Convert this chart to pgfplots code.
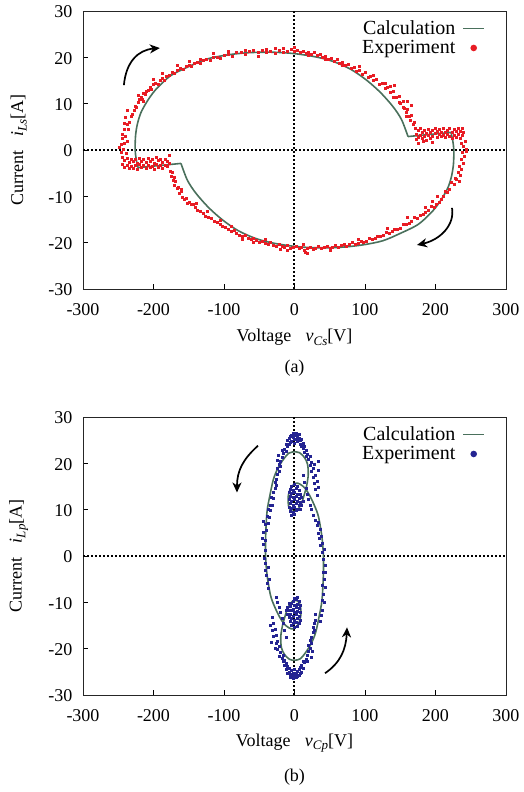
\documentclass[border=0pt]{standalone}
\usepackage{fontspec}
\setmainfont{Liberation Serif}
\usepackage{pgfplots}
\pgfplotsset{compat=1.18}
\usetikzlibrary{arrows.meta}
\definecolor{calc}{RGB}{74,112,92}
\definecolor{expred}{RGB}{232,28,36}
\definecolor{expblue}{RGB}{36,36,146}
\newcommand\sub[2]{\textit{#1}\raisebox{-0.45ex}{\fontsize{13}{13}\selectfont\textit{#2}}}
\newcommand\bigf{\fontsize{18}{20}\selectfont}
\newcommand\lstrut{\rule[-4pt]{0pt}{13pt}}
\tikzset{arr/.style={line width=1.7pt, -{Stealth[length=10pt, width=9pt, inset=3pt]}}}
\pgfplotsset{
 myaxis/.style={
  scale only axis, width=423pt, height=278pt,
  xmin=-300,xmax=300,ymin=-30,ymax=30,
  xtick={-300,-200,...,300}, xticklabels={-300,-200,-100,0,100,200,300},
  ytick={-30,-20,...,30}, yticklabels={-30,-20,-10,0,10,20,30},
  tick align=inside, xtick pos=bottom, ytick pos=left, major tick length=5pt,
  tick style={black, line width=0.6pt},
  axis line style={line width=0.9pt, black!85},
  ticklabel style={font=\bigf, inner sep=0pt},
  xticklabel style={anchor=base, yshift=-26.5pt},
  yticklabel style={anchor=base east, xshift=-10.5pt, yshift=-7pt},
  every axis x label/.style={at={(axis description cs:0.5,-0.173)}, anchor=center, font=\bigf},
  every axis y label/.style={at={(axis description cs:-0.152,0.5)}, anchor=center, rotate=90, font=\bigf},
  legend style={draw=none, fill=none, inner sep=0pt, outer sep=0pt, at={(rel axis cs:0.9504,0.965)}, anchor=north east, font=\fontsize{20}{22}\selectfont, nodes={inner sep=0pt}, row sep=4.5pt, column sep=7pt},
  legend cell align=right,
  legend plot pos=right,
 },
 zeroline/.style={black, line width=2pt, dash pattern=on 2pt off 2pt, forget plot},
 calcline/.style={calc, line width=1.6pt, no markers, legend image code/.code={\draw[calc, line width=1.6pt] (0pt,0pt) -- (21pt,0pt);}},
}
\begin{document}
\begin{tikzpicture}[font=\bigf]
\useasboundingbox (0,0) rectangle (524pt,792pt);
% ---------------- (a) ----------------
\begin{axis}[myaxis, name=top, at={(83pt,503pt)}, anchor=south west,
  xlabel={Voltage\hspace{0.8em}\sub{v}{Cs}[V]},
  ylabel={Current\hspace{0.8em}\sub{i}{Ls}[A]}]
\addplot[zeroline] coordinates {(-300,0) (300,0)};
\addplot[zeroline] coordinates {(0,-30) (0,30)};
\addplot[only marks, mark=square*, mark size=1pt, mark options={draw=expred, fill=expred}, forget plot] coordinates {
(-248,0.5) (-246,-0.5) (-246,1.2) (-244,2.5) (-244,3.5) (-243,0.2) (-242,4.5) (-242,5.8) (-241,1.5) (-240,3) (-240,7) (-239,-0.8) (-238,5.5) (-238,8.5) (-237,2)
(-236,4.5) (-234,6) (-232,7.2) (-230,7.8) (-228,8.6) (-226,9.5) (-224,9.2) (-222,10.4) (-220,10.9) (-218,11.3) (-216,11.0) (-214,12.2) (-212,12.0) (-210,12.6) (-208,12.9) (-205,13.6) (-203,13.2) (-200,14.1) (-197,14.5) (-194,14.2) (-191,15.0) (-188,15.4) (-185,15.1) (-182,16.0) (-178,16.2) (-174,16.8) (-170,16.5) (-166,17.3) (-162,17.6) (-158,17.4) (-154,18.1) (-150,18.3) (-146,18.0) (-142,18.8) (-138,19.0) (-134,18.8) (-130,19.4) (-125,19.6) (-120,19.3) (-115,20.0) (-110,20.1) (-105,19.8) (-100,20.5) (-94,20.6) (-88,20.3) (-82,21.0) (-76,21.1) (-70,20.7) (-64,21.3) (-58,21.5) (-52,21.0) (-46,21.6) (-40,21.8) (-34,21.4) (-28,21.9) (-22,21.6) (-16,22.0) (-10,21.4) (-4,21.8) (0,22.2)
(-222,11.8) (-214,10.6) (-200,15.2) (-188,16.5) (-166,18.3) (-150,19.2) (-134,19.6) (-115,20.8) (-94,21.3) (-70,21.5) (-52,20.3) (-40,21.0) (-16,21.2) (0,21.4) (-28,20.8)
(4,21.6) (8,21.0) (12,21.4) (16,20.8) (20,21.2) (24,20.6) (28,21.0) (32,20.4) (36,20.7) (40,20.0) (44,20.3) (48,19.6) (52,19.9) (56,19.2) (60,19.5) (64,18.7) (68,19.0) (72,18.3) (76,18.6) (80,17.7) (84,17.9) (88,17.1) (92,17.3) (96,16.4) (100,16.7) (104,15.8) (108,16.0) (112,15.0) (116,15.3) (120,14.2) (124,14.5) (128,13.3) (132,13.6) (136,12.4) (140,12.7) (144,11.3) (148,11.6) (150,10.2) (154,10.5) (156,9.1) (158,8.2) (160,8.8) (162,7.2) (164,6.5) (166,7.5) (168,5.5) (170,6.0) (171,4.8)
(128,14.4) (140,11.5) (148,10.4) (154,9.2) (158,7.3) (136,13.8) (112,16.1) (92,18.0) (68,18.3) (44,19.5) (20,20.5) (142,14.0) (166,9.7) (160,10.5)
(172,3.5) (172,2.3) (175,4.2) (175,2.8) (178,3.3) (178,4.6) (181,2.5) (181,3.8) (184,4.3) (184,3.0) (187,2.2) (187,3.6) (190,4.5) (190,3.1) (193,2.6) (193,3.9) (196,4.2) (196,3.0) (199,3.6) (199,4.7) (202,2.8) (202,4.0) (205,3.4) (205,4.4) (208,2.9) (208,3.8) (211,4.6) (211,3.2) (214,3.9) (214,2.7) (217,4.3) (217,3.4) (220,3.0) (220,4.7) (223,3.8) (223,2.5) (226,4.4) (226,3.3) (229,2.8) (229,4.0) (232,4.8) (232,3.5) (235,2.6) (235,4.1) (238,3.2) (238,4.6) (240,3.8)
(176,1.4) (183,1.8) (196,1.6)
(236,1.5) (240,0.8) (243,0.2) (238,-0.5) (241,-1.3) (236,-2.0) (239,-2.8) (234,-3.5) (237,-4.1) (232,-4.8) (235,-5.5) (230,-6.2) (233,-6.8) (242,1.9) (244,-0.3)
(228,-6.0) (226,-7.4) (222,-7.0) (220,-8.4) (217,-9.2) (214,-8.8) (211,-10.0) (208,-10.6) (205,-11.2) (201,-11.6) (198,-12.3) (194,-12.2) (190,-13.1) (186,-13.4) (182,-13.9) (178,-14.1) (174,-14.8) (170,-14.6) (166,-15.4) (162,-15.7) (158,-16.1) (154,-16.0) (150,-16.8) (146,-17.1) (142,-17.0) (138,-17.6) (134,-17.9) (130,-17.8) (126,-18.4) (122,-18.6) (118,-18.5) (114,-19.0) (110,-19.3) (106,-19.1) (102,-19.6) (98,-19.9) (94,-19.6) (90,-20.1) (86,-20.3) (82,-19.9) (78,-20.4) (74,-20.7) (70,-20.3) (66,-20.6) (62,-21.0) (58,-20.6) (54,-20.9) (50,-21.2) (46,-20.7) (42,-21.0) (38,-21.3) (34,-20.8) (30,-21.2) (26,-21.5) (22,-20.9) (18,-21.2) (14,-21.6) (10,-21.0) (6,-21.3) (2,-20.8)
(203,-10.0) (196,-11.0) (185,-12.3) (160,-14.6) (132,-16.9) (90,-19.2) (18,-22.3) (12,-20.3) (15,-22.0) (50,-21.6)
(-244,-1.6) (-244,-3.0) (-241,-2.3) (-241,-3.8) (-238,-1.8) (-238,-3.2) (-235,-2.6) (-235,-4.0) (-232,-1.9) (-232,-3.4) (-229,-2.4) (-229,-3.9) (-226,-2.0) (-226,-3.3) (-223,-2.8) (-223,-4.1) (-220,-1.7) (-220,-3.1) (-217,-2.5) (-217,-3.7) (-214,-2.0) (-214,-3.3) (-211,-2.7) (-211,-4.0) (-208,-1.8) (-208,-3.2) (-205,-2.4) (-205,-3.8) (-202,-2.0) (-202,-3.4) (-199,-2.8) (-199,-4.2) (-196,-1.6) (-196,-3.0) (-193,-2.3) (-193,-3.7) (-190,-2.0) (-190,-3.2) (-187,-2.6) (-187,-3.9) (-184,-1.9) (-184,-3.3) (-181,-2.4) (-181,-3.6) (-178,-2.9) (-178,-1.2)
(-177,-4.6) (-175,-5.6) (-174,-4.9) (-172,-6.5) (-171,-7.5) (-169,-6.8) (-167,-8.3) (-165,-8.0) (-163,-9.3) (-161,-9.0) (-159,-10.1) (-156,-10.6) (-153,-10.4) (-150,-11.3) (-147,-11.8) (-144,-11.6) (-141,-12.4) (-138,-12.9) (-134,-13.3) (-130,-13.6) (-126,-14.2) (-122,-14.5) (-118,-14.8) (-114,-15.4) (-110,-15.6) (-106,-16.0) (-102,-16.5) (-98,-16.7) (-94,-17.1) (-90,-17.5) (-86,-17.4) (-82,-18.0) (-78,-18.3) (-74,-18.5) (-70,-18.4) (-66,-19.0) (-62,-19.2) (-58,-19.0) (-54,-19.5) (-50,-19.8) (-46,-19.6) (-42,-20.1) (-38,-20.3) (-34,-20.0) (-30,-20.5) (-26,-20.7) (-22,-20.3) (-18,-20.8) (-14,-21.0) (-10,-20.6) (-6,-21.1) (-2,-20.9)
(-170,-5.8) (-160,-8.4) (-152,-11.5) (-140,-11.5) (-124,-13.3) (-106,-15.2) (-90,-16.5) (-74,-19.3) (-58,-20.0) (-42,-19.3) (-20,-21.5) (-10,-21.6)
};
\addplot[calcline] coordinates {(-161,-2.9) (-222,-3.8)};
\addlegendentry{\lstrut Calculation}
\addplot[calcline, smooth, tension=0.5, forget plot] coordinates {(-222,-3.8) (-224.5,-2) (-226,0) (-225.5,3) (-223,5.5) (-218,8) (-209,10.5) (-197,13) (-176,16) (-150,18) (-125,19.6) (-96,20.5) (-65,21) (-30,21.1) (0,20.8) (30,20.1) (55,19.1) (80,17.4) (102,15.1) (122,12.4) (140,9.3) (152,6.5) (161,2.9)};
\addplot[calcline, forget plot] coordinates {(161,2.9) (222,3.8)};
\addplot[calcline, smooth, tension=0.5, forget plot] coordinates {(222,3.8) (224.5,2) (226,0) (225.5,-3) (223,-5.5) (218,-8) (209,-10.5) (197,-13) (176,-16) (150,-18) (125,-19.6) (96,-20.5) (65,-21) (30,-21.1) (0,-20.8) (-30,-20.1) (-55,-19.1) (-80,-17.4) (-102,-15.1) (-122,-12.4) (-140,-9.3) (-152,-6.5) (-161,-2.9)};
\addlegendimage{legend image code/.code={\path[draw=none, fill=none] (0pt,0pt) -- (21pt,0pt); \fill[expred, draw=none] (10.5pt,0pt) circle (3.3pt);}}
\addlegendentry{\lstrut Experiment}
\draw[arr] (axis cs:-242,14) .. controls (axis cs:-239,19) and (axis cs:-222,21.6) .. (axis cs:-191,22);
\draw[arr] (axis cs:223.4,-12.5) .. controls (axis cs:227.7,-16.2) and (axis cs:206.4,-19.4) .. (axis cs:173.7,-20.5);
\end{axis}
\node at ([yshift=-79pt]top.south) {(a)};
% ---------------- (b) ----------------
\begin{axis}[myaxis, name=bot, at={(83pt,97pt)}, anchor=south west,
  xlabel={Voltage\hspace{0.8em}\sub{v}{Cp}[V]},
  ylabel={Current\hspace{0.8em}\sub{i}{Lp}[A]}]
\addplot[zeroline] coordinates {(-300,0) (300,0)};
\addplot[zeroline] coordinates {(0,-30) (0,30)};
\addplot[only marks, mark=square*, mark size=1pt, mark options={draw=expblue, fill=expblue}, forget plot] coordinates {
(-14,23.0) (-12,24.2) (-12,22.6) (-10,25.0) (-10,23.6) (-8,25.4) (-8,24.1) (-6,25.8) (-6,24.5) (-4,26.0) (-4,24.8) (-2,25.6) (-2,26.4) (0,25.2) (0,26.0) (0,24.4) (2,26.6) (2,25.3) (4,25.9) (4,24.7) (6,25.5) (6,26.3) (8,25.0) (8,24.2) (10,25.2) (10,23.8) (12,24.4) (12,23.2) (14,23.6) (14,22.4) (16,22.8) (16,21.5)
(-16,22.2) (-18,21.4) (-18,22.8) (-20,20.5) (-20,19.3) (-22,19.8) (-22,18.2) (-24,17.6) (-24,18.9) (-26,16.5) (-26,15.3) (-28,14.6) (-28,16.0) (-30,13.8) (-30,12.5) (-25,20.6) (-23,21.8)
(-32,11.0) (-33,12.6) (-34,9.8) (-35,10.9) (-36,8.4) (-37,10.2) (-38,7.0) (-39,8.6) (-40,5.5) (-42,6.8) (-44,7.6) (-45,5.2) (-46,3.8) (-44,2.5) (-42,1.2) (-41,3.5) (-43,-0.4) (-41,-1.6) (-42,-3.0) (-40,-4.2) (-38,-2.5) (-39,-5.8) (-37,-7.0) (-36,-5.1)
(-8,13.8) (-8,12.2) (-8,10.6) (-6,14.5) (-6,12.9) (-6,11.3) (-6,9.7) (-4,15.1) (-4,13.5) (-4,11.9) (-4,10.3) (-4,8.9) (-2,14.2) (-2,12.6) (-2,11.0) (-2,9.4) (0,15.4) (0,13.8) (0,12.2) (0,10.6) (0,9.1) (2,14.6) (2,13.0) (2,11.4) (2,9.8) (4,15.0) (4,13.4) (4,11.8) (4,10.2) (6,14.1) (6,12.5) (6,10.9) (8,13.3) (8,11.7) (8,10.1) (10,12.6) (10,11.0) (12,11.8)
(18,22.0) (20,20.8) (22,21.6) (22,19.5) (24,20.2) (24,18.3) (26,18.9) (26,17.0) (28,19.8) (28,15.8) (30,17.4) (30,14.5) (32,16.1) (32,13.2) (34,14.9) (34,20.4) (33,18.6) (16,14.6) (18,13.4) (20,12.2) (22,11.0) (24,10.0) (26,8.9) (14,16.0) (12,17.5)
(30,7.8) (32,6.6) (34,7.2) (33,5.0) (35,3.8) (36,5.8) (37,2.4) (38,4.2) (39,0.9) (40,2.8) (41,-0.6) (42,1.5) (43,-2.0) (41,-3.4) (44,-3.6) (42,-5.0) (40,-6.4) (43,-6.8) (41,-8.2) (39,-9.5) (42,-10.0) (40,-11.6) (38,-12.8) (37,-14.0)
(14,-23.0) (12,-24.2) (12,-22.6) (10,-25.0) (10,-23.6) (8,-25.4) (8,-24.1) (6,-25.8) (6,-24.5) (4,-26.0) (4,-24.8) (2,-25.6) (2,-26.2) (0,-25.2) (0,-26.0) (0,-24.4) (-2,-26.4) (-2,-25.3) (-4,-25.9) (-4,-24.7) (-6,-25.5) (-6,-26.1) (-8,-25.0) (-8,-24.2) (-10,-25.2) (-10,-23.8) (-12,-24.4) (-12,-23.2) (-14,-23.6) (-14,-22.4) (-16,-22.8) (-16,-21.5)
(16,-22.2) (18,-21.4) (18,-22.8) (20,-20.5) (20,-19.3) (22,-19.8) (22,-18.2) (24,-17.6) (24,-18.9) (26,-16.5) (26,-15.3) (28,-14.6) (28,-16.0) (30,-13.8) (30,-12.5) (25,-20.6) (23,-21.8)
(8,-13.8) (8,-12.2) (8,-10.6) (6,-14.5) (6,-12.9) (6,-11.3) (6,-9.7) (4,-15.1) (4,-13.5) (4,-11.9) (4,-10.3) (4,-8.9) (2,-14.2) (2,-12.6) (2,-11.0) (2,-9.4) (0,-15.4) (0,-13.8) (0,-12.2) (0,-10.6) (0,-9.1) (-2,-14.6) (-2,-13.0) (-2,-11.4) (-2,-9.8) (-4,-15.0) (-4,-13.4) (-4,-11.8) (-4,-10.2) (-6,-14.1) (-6,-12.5) (-6,-10.9) (-8,-13.3) (-8,-11.7) (-8,-10.1) (-10,-12.6) (-10,-11.0) (-12,-11.8)
(-18,-22.0) (-20,-20.8) (-22,-21.6) (-22,-19.5) (-24,-20.2) (-24,-18.3) (-26,-18.9) (-26,-17.0) (-28,-19.8) (-28,-15.8) (-30,-17.4) (-30,-14.5) (-32,-16.1) (-32,-13.2) (-34,-14.9) (-33,-18.6) (-16,-14.6) (-18,-13.4) (-20,-12.2) (-22,-11.0) (-24,-10.0) (-26,-8.9) (-14,-16.0) (-12,-17.5)
};
\addplot[calcline, smooth, tension=0.5] coordinates {(0,22.5) (-8,22.2) (-16,20.8) (-24,18.8) (-30,16.5) (-35,13) (-39,9.5) (-41,4) (-41,0) (-39,-4) (-34,-8.5) (-28,-11) (-21,-13.2) (-15,-14.6) (-8,-15.5) (-2,-15.7) (5,-14.8) (9,-12.8) (8,-10.5) (3,-9.6) (-3,-9.8) (-9,-11) (-13,-12.8) (-17,-15) (-19.5,-17.5) (-18.5,-19.8) (-14,-21.3) (-7,-22.3) (0,-22.5) (8,-22.2) (16,-20.8) (24,-18.8) (30,-16.5) (35,-13) (39,-9.5) (41,-4) (41,0) (39,4) (34,8.5) (28,11) (21,13.2) (15,14.6) (8,15.5) (2,15.7) (-5,14.8) (-9,12.8) (-8,10.5) (-3,9.6) (3,9.8) (9,11) (13,12.8) (17,15) (19.5,17.5) (18.5,19.8) (14,21.3) (7,22.3) (0,22.5)};
\addlegendentry{\lstrut Calculation}
\addlegendimage{legend image code/.code={\path[draw=none, fill=none] (0pt,0pt) -- (21pt,0pt); \fill[expblue, draw=none] (10.5pt,0pt) circle (3.3pt);}}
\addlegendentry{\lstrut Experiment}
\draw[arr] (axis cs:-51.8,23.8) .. controls (axis cs:-73,20.9) and (axis cs:-81.6,18.4) .. (axis cs:-81.6,13.7);
\draw[arr] (axis cs:43.3,-25.3) .. controls (axis cs:64.5,-23.1) and (axis cs:73,-20.3) .. (axis cs:74.5,-15.4);
\end{axis}
\node at ([yshift=-82pt]bot.south) {(b)};
\end{tikzpicture}
\end{document}
